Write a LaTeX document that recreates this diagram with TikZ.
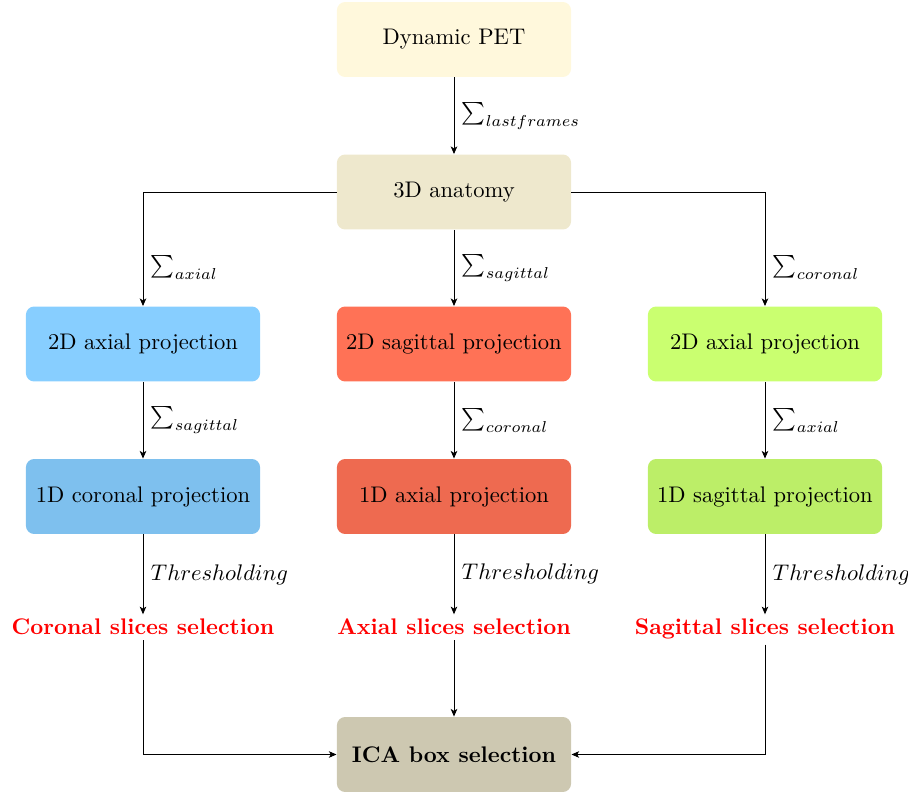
\documentclass[tikz,border=0pt]{standalone}
\usepackage{amsmath, amssymb}
\usetikzlibrary{arrows.meta}
\definecolor{petfill}{HTML}{FFF8DC}
\definecolor{anatfill}{HTML}{EEE8CD}
\definecolor{icafill}{HTML}{CDC8B1}
\definecolor{bluetwo}{HTML}{87CEFF}
\definecolor{blueone}{HTML}{7EC0EE}
\definecolor{redtwo}{HTML}{FF7256}
\definecolor{redone}{HTML}{EE6A50}
\definecolor{greentwo}{HTML}{CAFF70}
\definecolor{greenone}{HTML}{BCEE68}
\tikzset{every picture/.style={line width=0.4pt}}
\tikzset{
  stagebox/.style={rounded corners=3.6pt, minimum width=103.7pt, minimum height=33.2pt, align=center, inner sep=2pt},
  pick/.style={text=red, font=\bfseries, inner sep=2pt, anchor=base},
  flow/.style={-{Stealth[length=3.4pt, width=2.9pt, inset=0.9pt]}},
}

\begin{document}
\begin{tikzpicture}[x=0.443pt,y=0.443pt,yscale=-1,xscale=1]
\useasboundingbox (0,0) rectangle (908,792);

% Boxes
\node [stagebox, fill=petfill] (pet) at (454,39.5) {Dynamic PET};
\node [stagebox, fill=anatfill] (anat) at (454,192) {3D anatomy};
\node [stagebox, fill=bluetwo] (axtwo) at (143,344) {2D axial projection};
\node [stagebox, fill=redtwo] (sagtwo) at (454,344) {2D sagittal projection};
\node [stagebox, fill=greentwo] (cortwo) at (765,344) {2D axial projection};
\node [stagebox, fill=blueone] (corone) at (143,496.5) {1D coronal projection};
\node [stagebox, fill=redone] (axone) at (454,496.5) {1D axial projection};
\node [stagebox, fill=greenone] (sagone) at (765,496.5) {1D sagittal projection};
\node [stagebox, fill=icafill, font=\bfseries] (ica) at (454,754.5) {ICA box selection};

% Selections
\node [pick] (corsel) at (143,635) {Coronal slices selection};
\node [pick] (axsel) at (454,635) {Axial slices selection};
\node [pick] (sagsel) at (765,635) {Sagittal slices selection};

% Sums
\draw [flow] (pet) -- node [right] {$\sum_{lastframes}$} (anat);
\draw [flow] (anat) -| node [pos=0.83, right] {$\sum_{axial}$} (axtwo);
\draw [flow] (anat) -- node [right] {$\sum_{sagittal}$} (sagtwo);
\draw [flow] (anat) -| node [pos=0.83, right] {$\sum_{coronal}$} (cortwo);
\draw [flow] (axtwo) -- node [right] {$\sum_{sagittal}$} (corone);
\draw [flow] (sagtwo) -- node [right] {$\sum_{coronal}$} (axone);
\draw [flow] (cortwo) -- node [right] {$\sum_{axial}$} (sagone);

% Thresholding
\draw [flow] (corone) -- node [right] {$Thresholding$} (corsel);
\draw [flow] (axone) -- node [right] {$Thresholding$} (axsel);
\draw [flow] (sagone) -- node [right] {$Thresholding$} (sagsel);

% ICA
\draw [flow] (corsel) |- (ica);
\draw [flow] (axsel) -- (ica);
\draw [flow] (sagsel) |- (ica);

\end{tikzpicture}
\end{document}
